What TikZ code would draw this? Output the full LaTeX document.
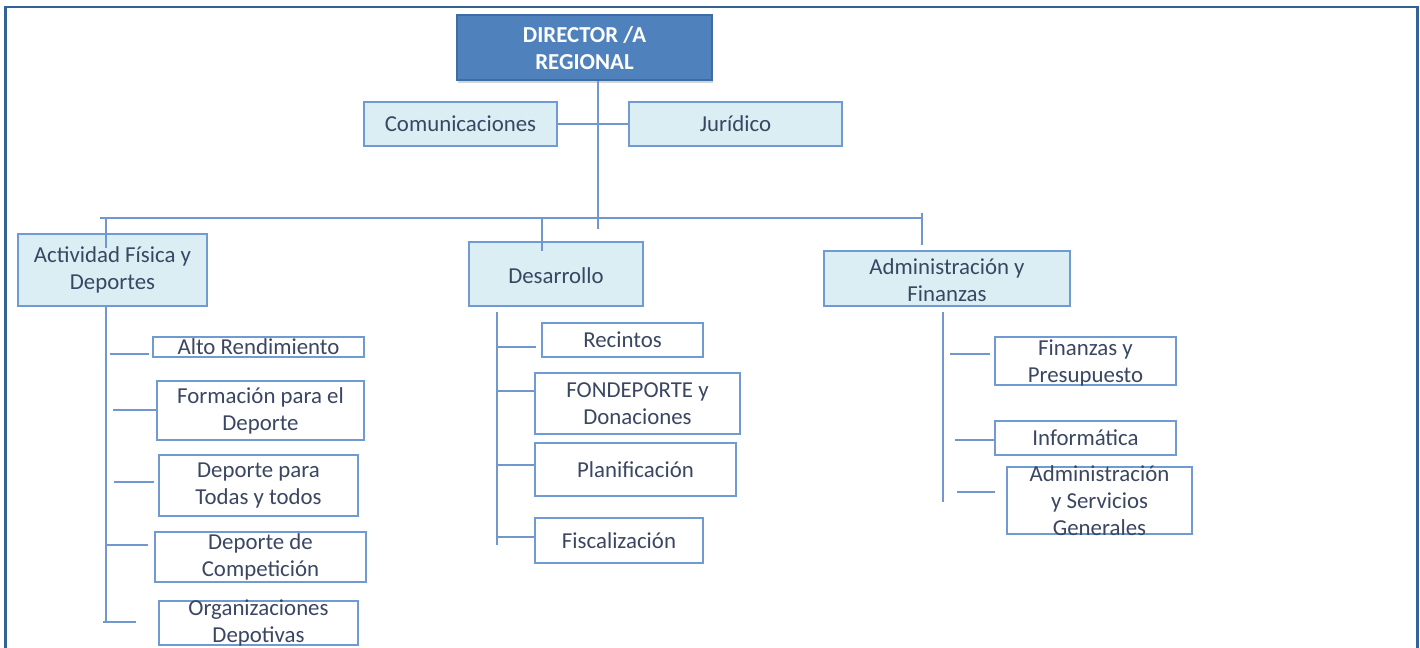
\documentclass[tikz,border=0pt]{standalone}
\usepackage{fontspec}
\setmainfont{Carlito}
\usetikzlibrary{fit,calc,shadows}
\definecolor{framec}{RGB}{52,98,150}
\definecolor{dirfill}{RGB}{79,129,189}
\definecolor{dirdraw}{RGB}{62,108,165}
\definecolor{lightfill}{RGB}{219,238,244}
\definecolor{boxdraw}{RGB}{112,154,210}
\definecolor{linec}{RGB}{112,152,206}
\definecolor{txt}{RGB}{58,70,98}
\tikzset{
  boxbase/.style={draw=boxdraw, line width=1.1pt, inner sep=0pt},
  lvlbox/.style={boxbase, fill=lightfill},
  subbox/.style={boxbase, fill=white},
  headbox/.style={draw=dirdraw, fill=dirfill, line width=1pt, inner sep=0pt,
    drop shadow={shadow xshift=0.5pt, shadow yshift=-1.5pt, opacity=0.35}},
  lbl/.style={align=center, text=txt, inner sep=0pt, font=\fontsize{13}{15.4}\selectfont},
  headlbl/.style={align=center, text=white, inner sep=0pt, font=\bfseries\fontsize{13}{15.4}\selectfont},
  ln/.style={draw=linec, line width=1.2pt},
  framel/.style={draw=framec, line width=1.7pt}
}
\begin{document}
\begin{tikzpicture}[x=0.02cm,y=-0.02cm]
\useasboundingbox (0,0) rectangle (1420,648);
\draw[framel] (5.5,648) -- (5.5,7) -- (1417.5,7) -- (1417.5,648);

% top
\node[headbox, fit={(457,15) (712,80)}] (dir) {};
\node[headlbl] (t-dir) at ($(dir.center)+(0,1)$) {DIRECTOR /A\\REGIONAL};
\node[lvlbox, fit={(364,102) (557,146)}] (com) {};
\node[lbl] (t-com) at (com.center) {Comunicaciones};
\node[lvlbox, fit={(629,102) (842,146)}] (jur) {};
\node[lbl] (t-jur) at (jur.center) {Jurídico};

% level 2
\node[lvlbox, fit={(18,234) (207,306)}] (act) {};
\node[lbl] (t-act) at (act.center) {Actividad Física y\\Deportes};
\node[lvlbox, fit={(469,242) (643,306)}] (des) {};
\node[lbl] (t-des) at ($(des.center)+(0,2)$) {Desarrollo};
\node[lvlbox, fit={(824,251) (1070,306)}] (adm) {};
\node[lbl] (t-adm) at ($(adm.center)+(0,2)$) {Administración y\\Finanzas};

% left column
\node[subbox, fit={(153,337) (364,357)}] (alto) {};
\node[lbl] (t-alto) at (alto.center) {Alto Rendimiento};
\node[subbox, fit={(157,381) (364,440)}] (form) {};
\node[lbl] (t-form) at (form.center) {Formación para el\\Deporte};
\node[subbox, fit={(159,455) (358,516)}] (dpt) {};
\node[lbl] (t-dpt) at (dpt.center) {Deporte para\\Todas y todos};
\node[subbox, fit={(155,532) (366,582)}] (comp) {};
\node[lbl] (t-comp) at (comp.center) {Deporte de\\Competición};
\node[subbox, fit={(159,601) (358,645)}] (org) {};
\node[lbl] (t-org) at (org.center) {Organizaciones\\Depotivas};

% middle column
\node[subbox, fit={(542,323) (703,357)}] (rec) {};
\node[lbl] (t-rec) at (rec.center) {Recintos};
\node[subbox, fit={(535,373) (740,434)}] (fon) {};
\node[lbl] (t-fon) at (fon.center) {FONDEPORTE y\\Donaciones};
\node[subbox, fit={(535,443) (736,496)}] (pla) {};
\node[lbl] (t-pla) at (pla.center) {Planificación};
\node[subbox, fit={(535,518) (703,563)}] (fis) {};
\node[lbl] (t-fis) at (fis.center) {Fiscalización};

% right column
\node[subbox, fit={(995,337) (1176,385)}] (fin) {};
\node[lbl] (t-fin) at ($(fin.center)+(0,2)$) {Finanzas y\\Presupuesto};
\node[subbox, fit={(995,421) (1176,455)}] (inf) {};
\node[lbl] (t-inf) at (inf.center) {Informática};
\node[subbox, fit={(1007,467) (1192,534)}] (asg) {};
\node[lbl] (t-asg) at (asg.center) {Administración\\y Servicios\\Generales};

% connectors top
\coordinate (dv) at (598,229);
\coordinate (busL) at (100,218);
\coordinate (busR) at (922,218);
\draw[ln] (dir.south -| dv) -- (dv);
\draw[ln] (com.east) -- (jur.west);
\draw[ln] (busL) -- (busR);
\draw[ln] (922,213) -- (922,245);
\draw[ln] (106,218) -- (106,248);
\draw[ln] (542,218) -- (542,251);

% left trunk
\coordinate (tL) at (106,622);
\draw[ln] (act.south -| tL) -- (tL);
\draw[ln] (110,354) -- (149,354);
\draw[ln] (113,410) -- (form.west |- 0,410);
\draw[ln] (114,482) -- (154,482);
\draw[ln] (106,545) -- (148,545);
\draw[ln] (103,622) -- (136,622);

% middle trunk
\coordinate (tM) at (497,545);
\draw[ln] (497,312) -- (tM);
\draw[ln] (497,347) -- (536,347);
\draw[ln] (497,391) -- (fon.west |- 0,391);
\draw[ln] (497,465) -- (pla.west |- 0,465);
\draw[ln] (497,537) -- (fis.west |- 0,537);

% right trunk
\coordinate (tR) at (943,502);
\draw[ln] (943,312) -- (tR);
\draw[ln] (950,354) -- (990,354);
\draw[ln] (955,440) -- (inf.west |- 0,440);
\draw[ln] (957,492) -- (995,492);
\end{tikzpicture}
\end{document}
